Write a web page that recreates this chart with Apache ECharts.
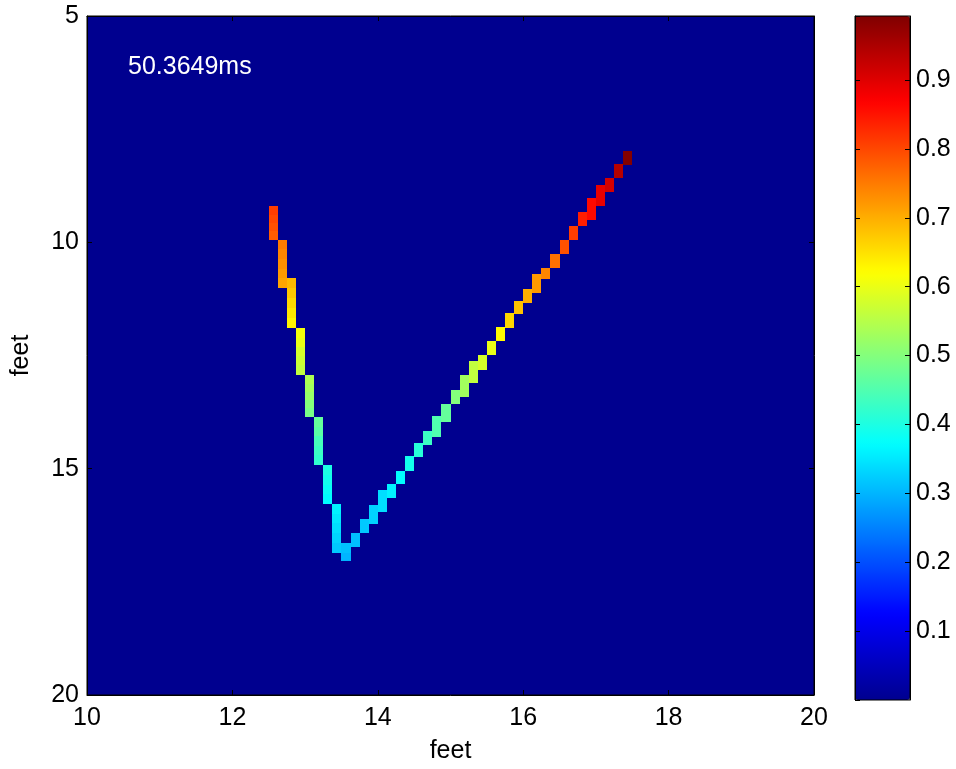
<!DOCTYPE html>
<html>
<head>
<meta charset="utf-8">
<script src="https://cdn.jsdelivr.net/npm/echarts@6/dist/echarts.min.js"></script>
<style>
  html, body { margin: 0; padding: 0; background: #fff; }
  #chart { width: 956px; height: 769px; }
</style>
</head>
<body>
<div id="chart"></div>
<script>
// cells of the wave front: left edge (feet), top / bottom (feet), value
const cellX = [
    12.5, 12.5, 12.5, 12.5,
    12.625, 12.625, 12.625, 12.625, 12.625,
    12.75, 12.75, 12.75, 12.75, 12.75,
    12.875, 12.875, 12.875, 12.875, 12.875,
    13.0, 13.0, 13.0, 13.0, 13.0,
    13.125, 13.125, 13.125, 13.125, 13.125,
    13.25, 13.25, 13.25, 13.25,
    13.375, 13.375, 13.375, 13.375, 13.375,
    13.5, 13.5,
    13.625, 13.75, 13.875, 14.0, 14.125, 14.25, 14.375, 14.5, 14.625, 14.75,
    14.875, 15.0, 15.125, 15.25, 15.375, 15.5, 15.625, 15.75, 15.875, 16.0,
    16.125, 16.25, 16.375, 16.5, 16.625, 16.75, 16.875, 17.0, 17.125, 17.25,
    17.375
];
const cellTop = [
    9.20, 9.39, 9.57, 9.76,
    9.94, 10.15, 10.36, 10.58, 10.79,
    10.79, 11.01, 11.24, 11.46, 11.68,
    11.90, 12.11, 12.31, 12.52, 12.72,
    12.93, 13.12, 13.30, 13.49, 13.67,
    13.86, 14.07, 14.28, 14.49, 14.70,
    14.91, 15.13, 15.35, 15.56,
    15.78, 16.00, 16.21, 16.43, 16.64,
    16.64, 16.86,
    16.42, 16.11, 15.81, 15.48, 15.34, 15.06, 14.73, 14.44, 14.16, 13.83,
    13.57, 13.26, 12.93, 12.62, 12.49, 12.18, 11.87, 11.57, 11.30, 11.02,
    10.69, 10.56, 10.25, 9.94, 9.63, 9.33, 9.02, 8.73, 8.58, 8.27,
    7.99
];
const cellBottom = [
    9.39, 9.57, 9.76, 9.94,
    10.15, 10.36, 10.58, 10.79, 11.00,
    11.01, 11.24, 11.46, 11.68, 11.90,
    12.11, 12.31, 12.52, 12.72, 12.93,
    13.12, 13.30, 13.49, 13.67, 13.86,
    14.07, 14.28, 14.49, 14.70, 14.91,
    15.13, 15.35, 15.56, 15.78,
    16.00, 16.21, 16.43, 16.64, 16.86,
    16.86, 17.04,
    16.73, 16.42, 16.22, 15.96, 15.65, 15.34, 15.06, 14.75, 14.47, 14.29,
    13.98, 13.57, 13.41, 13.10, 12.82, 12.49, 12.18, 11.90, 11.59, 11.35,
    11.13, 10.82, 10.56, 10.25, 9.94, 9.63, 9.50, 9.19, 8.89, 8.58,
    8.29
];
const cellValue = [
    0.81, 0.80, 0.79, 0.78,
    0.75, 0.74, 0.73, 0.72, 0.71,
    0.69, 0.675, 0.66, 0.645, 0.63,
    0.61, 0.60, 0.58, 0.57, 0.56,
    0.54, 0.53, 0.52, 0.50, 0.49,
    0.47, 0.46, 0.44, 0.43, 0.42,
    0.40, 0.39, 0.38, 0.37,
    0.36, 0.35, 0.34, 0.33, 0.32,
    0.31, 0.30,
    0.31, 0.32, 0.33, 0.34, 0.36, 0.37, 0.39, 0.41, 0.43, 0.45,
    0.47, 0.50, 0.53, 0.56, 0.58, 0.60, 0.625, 0.66, 0.68, 0.70,
    0.72, 0.74, 0.76, 0.79, 0.81, 0.84, 0.86, 0.89, 0.91, 0.94,
    0.99
];

const xTicks = [10, 12, 14, 16, 18, 20];
const yTicks = [5, 10, 15, 20];
const colorbarTicks = [0.1, 0.2, 0.3, 0.4, 0.5, 0.6, 0.7, 0.8, 0.9];
const timeLabel = '50.3649ms';

const CELL_W = 0.125;
const VALUE_MAX = 0.993;
const JET = ['#00008f', '#0000ff', '#0080ff', '#00ffff', '#80ff80', '#ffff00', '#ff8000', '#ff0000', '#800000'];
const FONT = 'Liberation Sans, Arial, sans-serif';

const cells = cellX.map((x, i) => [x, cellTop[i], cellBottom[i], cellValue[i]]);

function renderCell(params, api) {
    const p0 = api.coord([api.value(0), api.value(1)]);
    const p1 = api.coord([api.value(0) + CELL_W, api.value(2)]);
    // snap to whole pixels so neighbouring cells meet without seams
    const x0 = Math.round(p0[0]), y0 = Math.round(p0[1]);
    const x1 = Math.round(p1[0]), y1 = Math.round(p1[1]);
    return {
        type: 'rect',
        shape: { x: x0, y: y0, width: x1 - x0, height: y1 - y0 },
        style: { fill: api.visual('color') }
    };
}

const tickStyle = { inside: true, length: 5, lineStyle: { color: '#000', width: 1 } };
const lineStyle = { show: true, onZero: false, lineStyle: { color: '#000', width: 1 } };
const labelStyle = { color: '#000', fontSize: 25, fontFamily: FONT };

const chart = echarts.init(document.getElementById('chart'));
chart.setOption({
    animation: false,
    backgroundColor: '#fff',
    title: {
        text: timeLabel,
        left: 128, top: 55, padding: 0,
        textStyle: { color: '#fff', fontSize: 25, fontWeight: 'normal', fontFamily: FONT }
    },
    grid: [
        { left: 87, top: 16, width: 727, height: 683, show: true, backgroundColor: '#00008f', borderColor: '#000', borderWidth: 1 },
        { left: 855, top: 16, width: 55, height: 684, show: true, backgroundColor: 'transparent', borderColor: '#000', borderWidth: 1, z: 10 }
    ],
    xAxis: [
        {
            gridIndex: 0, type: 'value', min: xTicks[0], max: xTicks[xTicks.length - 1], interval: 2, position: 'bottom', z: 5,
            axisLine: lineStyle, axisTick: tickStyle, splitLine: { show: false },
            axisLabel: Object.assign({ margin: 11 }, labelStyle),
            name: 'feet', nameLocation: 'middle', nameGap: 44, nameTextStyle: labelStyle
        },
        {
            gridIndex: 0, type: 'value', min: xTicks[0], max: xTicks[xTicks.length - 1], interval: 2, position: 'top', z: 5,
            axisLine: lineStyle, axisTick: tickStyle, splitLine: { show: false }, axisLabel: { show: false }
        },
        { gridIndex: 1, type: 'value', show: false }
    ],
    yAxis: [
        {
            gridIndex: 0, type: 'value', min: yTicks[0], max: yTicks[yTicks.length - 1], interval: 5, inverse: true, position: 'left', z: 5,
            axisLine: lineStyle, axisTick: tickStyle, splitLine: { show: false },
            axisLabel: Object.assign({ margin: 8 }, labelStyle),
            name: 'feet', nameLocation: 'middle', nameGap: 53, nameTextStyle: labelStyle
        },
        {
            gridIndex: 0, type: 'value', min: yTicks[0], max: yTicks[yTicks.length - 1], interval: 5, inverse: true, position: 'right', z: 5,
            axisLine: lineStyle, axisTick: tickStyle, splitLine: { show: false }, axisLabel: { show: false }
        },
        {
            gridIndex: 1, type: 'value', min: 0, max: VALUE_MAX, interval: 0.1, position: 'left', z: 10,
            axisLine: lineStyle, axisTick: tickStyle, splitLine: { show: false }, axisLabel: { show: false }
        },
        {
            gridIndex: 1, type: 'value', min: 0, max: VALUE_MAX, interval: 0.1, position: 'right', z: 10,
            axisLine: lineStyle, axisTick: tickStyle, splitLine: { show: false },
            axisLabel: Object.assign({
                margin: 6, showMinLabel: false, showMaxLabel: false,
                formatter: v => colorbarTicks.some(t => Math.abs(t - v) < 1e-6) ? v.toFixed(1) : ''
            }, labelStyle)
        }
    ],
    visualMap: {
        type: 'continuous', min: 0, max: VALUE_MAX, dimension: 3, seriesIndex: 0,
        inRange: { color: JET },
        calculable: false, hoverLink: false, orient: 'vertical',
        left: 855, top: 16, itemWidth: 55, itemHeight: 684, padding: 0
    },
    series: [{
        type: 'custom',
        xAxisIndex: 0, yAxisIndex: 0,
        renderItem: renderCell,
        data: cells,
        clip: true
    }]
});
</script>
</body>
</html>
